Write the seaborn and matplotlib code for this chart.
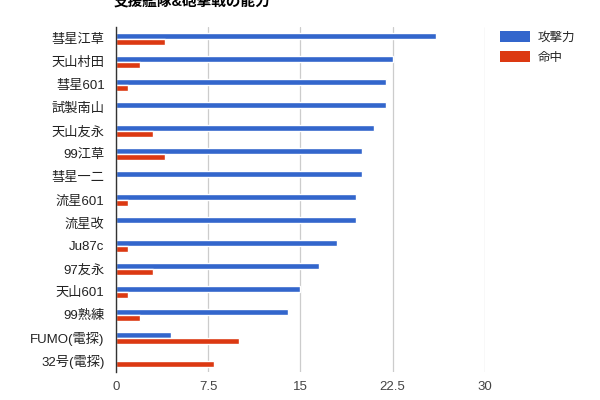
import matplotlib

matplotlib.use("Agg")
import matplotlib.pyplot as plt
import pandas as pd
import seaborn as sns
from matplotlib.patches import Patch

# Values
planes = [
    "彗星江草", "天山村田", "彗星601", "試製南山", "天山友永",
    "99江草", "彗星一二", "流星601", "流星改", "Ju87c",
    "97友永", "天山601", "99熟練", "FUMO(電探)", "32号(電探)",
]
attack = [26, 22.5, 22, 22, 21, 20, 20, 19.5, 19.5, 18, 16.5, 15, 14, 4.5, 0]
accuracy = [4, 2, 1, 0, 3, 4, 0, 1, 0, 1, 3, 1, 2, 10, 8]
series_names = ["攻撃力", "命中"]
x_ticks = [0, 7.5, 15, 22.5, 30]
x_tick_labels = ["0", "7.5", "15", "22.5", "30"]

COLORS = ["#3366cc", "#dc3912"]

df = pd.DataFrame({
    "plane": planes * 2,
    "value": attack + accuracy,
    "series": [series_names[0]] * len(planes) + [series_names[1]] * len(planes),
})

sns.set_theme(style="white")
plt.rcParams["font.family"] = ["Liberation Sans", "Noto Sans CJK JP", "DejaVu Sans"]

fig = plt.figure(figsize=(6, 4), dpi=100)
ax = fig.add_axes([0.193, 0.069, 0.615, 0.863])

sns.barplot(
    data=df, x="value", y="plane", hue="series",
    hue_order=series_names, order=planes, palette=COLORS,
    width=0.53, saturation=1, orient="h", legend=False, ax=ax,
)

ax.set_xlim(0, 30)
ax.set_xticks(x_ticks)
ax.set_xticklabels(x_tick_labels)
ax.grid(axis="x", color="#cccccc", linewidth=0.9)
ax.set_axisbelow(True)
for side in ["top", "right", "bottom"]:
    ax.spines[side].set_visible(False)
ax.spines["left"].set_color("#333333")
ax.spines["left"].set_linewidth(1.0)
ax.set_xlabel("")
ax.set_ylabel("")
ax.tick_params(axis="y", length=0, pad=8, labelsize=9.5, labelcolor="#222222")
ax.tick_params(axis="x", length=0, pad=6, labelsize=9.5, labelcolor="#444444")

handles = [Patch(facecolor=c, edgecolor="none") for c in COLORS]
fig.legend(
    handles, series_names, loc="upper left", bbox_to_anchor=(0.815, 0.95),
    frameon=False, fontsize=9, handlelength=2.4, handleheight=0.9,
    labelspacing=0.6, handletextpad=0.6,
)

# Title sits partly above the top edge, as in the reference
fig.text(0.19, 0.983, "支援艦隊&砲撃戦の能力", fontsize=10.5, fontweight="bold",
         ha="left", va="baseline", color="#000000")

fig.savefig("out.png", dpi=100)
